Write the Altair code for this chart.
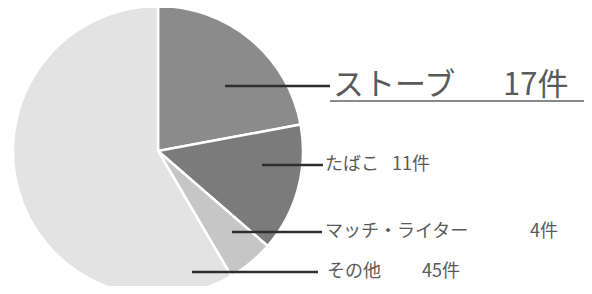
import altair as alt
import pandas as pd

# --- data ---
categories = ["ストーブ", "たばこ", "マッチ・ライター", "その他"]
counts = [17, 11, 4, 45]
count_labels = ["17件", "11件", "4件", "45件"]
slice_colors = ["#8b8b8b", "#7b7b7b", "#c6c6c6", "#e3e3e3"]

# --- label layout (pixels inside the chart) ---
label_y = [78, 157, 224, 264]
line_x1 = [217, 254, 224, 184]
line_x2 = [322, 315, 314, 310]
name_x = [325, 317, 317, 319]
count_x = [495, 384, 522, 414]

FONT = "Noto Sans CJK JP"

pie_df = pd.DataFrame({"category": categories, "count": counts, "idx": range(len(categories))})
lab_df = pd.DataFrame({
    "category": categories,
    "count_label": count_labels,
    "y": label_y,
    "x1": line_x1,
    "x2": line_x2,
    "nx": name_x,
    "cx": count_x,
})

pie = alt.Chart(pie_df).mark_arc(
    outerRadius=145, stroke="white", strokeWidth=2.5
).encode(
    theta=alt.Theta("count:Q", stack=True),
    order=alt.Order("idx:Q"),
    color=alt.Color("category:N", scale=alt.Scale(domain=categories, range=slice_colors), legend=None),
    x=alt.value(150),
    y=alt.value(143),
)

lines = alt.Chart(lab_df).mark_rule(color="#2e2e2e", strokeWidth=2.5).encode(
    x=alt.X("x1:Q", scale=None),
    x2="x2:Q",
    y=alt.Y("y:Q", scale=None),
)

underline = alt.Chart(lab_df.iloc[[0]]).mark_rule(color="#8a8a8a", strokeWidth=2).encode(
    x=alt.value(322),
    x2=alt.value(578),
    y=alt.value(93),
)

big = lab_df.iloc[[0]]
small = lab_df.iloc[1:]

big_name = alt.Chart(big).mark_text(
    align="left", baseline="middle", font=FONT, fontSize=31, color="#5a5a5a"
).encode(x=alt.X("nx:Q", scale=None), y=alt.Y("y:Q", scale=None), text="category:N")

big_count = alt.Chart(big).mark_text(
    align="left", baseline="middle", font=FONT, fontSize=31, color="#5a5a5a"
).encode(x=alt.X("cx:Q", scale=None), y=alt.Y("y:Q", scale=None), text="count_label:N")

small_name = alt.Chart(small).mark_text(
    align="left", baseline="middle", font=FONT, fontSize=18, color="#5a5a5a"
).encode(x=alt.X("nx:Q", scale=None), y=alt.Y("y:Q", scale=None), text="category:N")

small_count = alt.Chart(small).mark_text(
    align="left", baseline="middle", font=FONT, fontSize=18, color="#5a5a5a"
).encode(x=alt.X("cx:Q", scale=None), y=alt.Y("y:Q", scale=None), text="count_label:N")

chart = alt.layer(pie, lines, underline, big_name, big_count, small_name, small_count).properties(
    width=576, height=278, padding=0, background="white",
    autosize=alt.AutoSizeParams(type="none")
).configure_view(stroke=None)

chart.save("out.html", embed_options={"renderer": "svg", "actions": False})
